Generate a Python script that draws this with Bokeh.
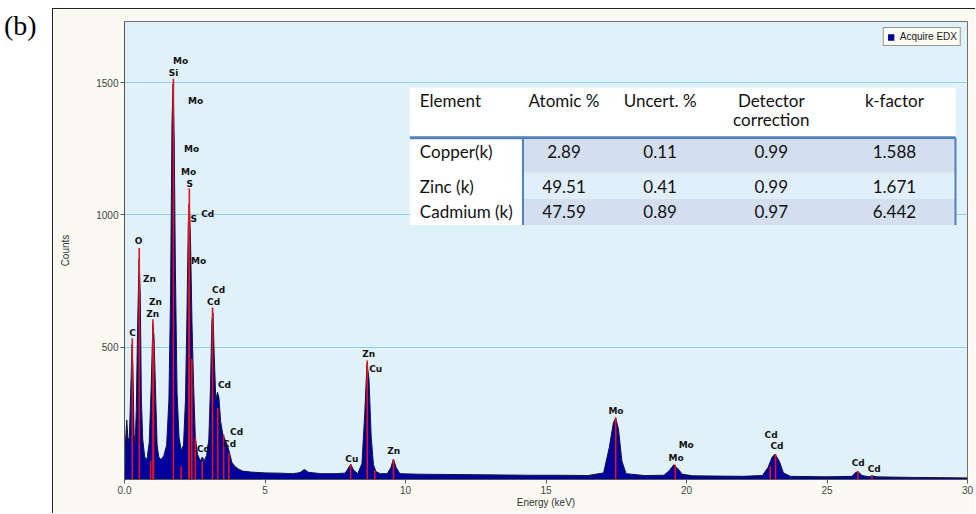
import numpy as np
from bokeh.plotting import figure
from bokeh.models import Div, FixedTicker, Range1d
from bokeh.layouts import row, column
from bokeh.embed import file_html
from bokeh.resources import INLINE
from bokeh.core.properties import value

# ---------------- data ----------------
energy_kev = [0.00, 0.02, 0.04, 0.08, 0.12, 0.17, 0.22, 0.27, 0.30, 0.34, 0.38, 0.42, 0.47, 0.52,
              0.56, 0.60, 0.65, 0.72, 0.80, 0.88, 0.95, 1.01, 1.05, 1.10, 1.16, 1.22, 1.30, 1.40,
              1.50, 1.58, 1.64, 1.69, 1.73, 1.77, 1.81, 1.87, 1.94, 2.02, 2.10, 2.17, 2.22, 2.27,
              2.31, 2.35, 2.40, 2.46, 2.52, 2.60, 2.70, 2.77, 2.83, 2.92, 3.00, 3.06, 3.11, 3.15,
              3.19, 3.25, 3.31, 3.36, 3.42, 3.50, 3.58, 3.66, 3.74, 3.82, 3.92, 4.05, 4.20, 4.50,
              5.00, 5.50, 6.00, 6.25, 6.40, 6.55, 7.00, 7.50, 7.85, 7.95, 8.05, 8.15, 8.30, 8.45,
              8.55, 8.63, 8.70, 8.78, 8.86, 8.95, 9.10, 9.35, 9.48, 9.57, 9.67, 9.80, 10.5, 11.5,
              12.5, 13.5, 14.5, 15.5, 16.5, 17.05, 17.25, 17.40, 17.48, 17.58, 17.70, 17.85, 18.5,
              19.2, 19.4, 19.55, 19.7, 19.85, 20.2, 21.0, 22.0, 22.7, 22.9, 23.05, 23.15, 23.3,
              23.45, 23.7, 25.0, 25.9, 26.0, 26.1, 26.25, 26.5, 26.6, 26.75, 28.0, 29.0, 30.0]
counts = [0, 40, 150, 225, 160, 140, 330, 510, 420, 170, 140, 260, 600, 835,
          700, 300, 150, 85, 75, 140, 350, 590, 540, 350, 130, 85, 75, 90,
          130, 300, 700, 1350, 1495, 1280, 800, 330, 160, 110, 130, 300, 600, 970,
          1040, 900, 600, 350, 160, 95, 70, 85, 70, 90, 150, 350, 600, 630,
          480, 300, 330, 310, 220, 170, 150, 130, 100, 65, 50, 40, 32, 28,
          25, 24, 22, 26, 38, 27, 22, 22, 24, 40, 58, 36, 22, 60,
          250, 440, 380, 160, 55, 30, 22, 22, 45, 77, 45, 22, 20, 19,
          18, 17, 16, 16, 15, 25, 120, 215, 232, 190, 70, 22, 15,
          16, 35, 56, 40, 20, 14, 13, 12, 15, 45, 85, 96, 70,
          25, 12, 10, 12, 25, 30, 15, 10, 14, 10, 8, 7, 6]

marker_energy = [0.277, 0.525, 0.93, 1.012, 1.034, 1.74, 2.016, 2.293, 2.307, 2.395, 2.52,
                 2.767, 3.133, 3.316, 3.528, 3.716, 8.047, 8.638, 8.905, 9.572, 17.48, 19.6,
                 22.98, 23.17, 26.1, 26.6]
marker_top = [534, 875, 70, 606, 520, 1515, 50, 1040, 1100, 455, 160,
              70, 650, 270, 170, 100, 58, 450, 35, 77, 235, 56,
              50, 96, 30, 14]

label_text = ["Mo", "Si", "Mo", "Mo", "Mo", "S", "S", "Cd", "O", "Zn", "Mo", "Zn", "Zn", "Cd",
              "Cd", "C", "Cd", "Cd", "Cd", "Cd", "Cu", "Zn", "Cu", "Zn", "Mo", "Mo", "Mo", "Cd",
              "Cd", "Cd", "Cd"]
label_energy = [1.995, 1.746, 2.53, 2.39, 2.28, 2.32, 2.46, 2.96, 0.50, 0.89, 2.64, 1.10, 1.00, 3.35,
                3.17, 0.285, 3.56, 3.99, 3.74, 2.81, 8.09, 8.69, 8.94, 9.58, 17.49, 19.99, 19.63, 23.01,
                23.22, 26.11, 26.68]
label_counts = [1580, 1538, 1432, 1250, 1163, 1117, 985, 1004, 902, 758, 826, 670, 625, 716,
                670, 553, 356, 178, 133, 114, 76, 473, 417, 106, 258, 129, 83, 170,
                125, 61, 38]

x_ticks = [0, 5, 10, 15, 20, 25, 30]
y_ticks = [500, 1000, 1500]

table_header = ["Element", "Atomic %", "Uncert. %", "Detector", "k-factor"]
table_elements = ["Copper(k)", "Zinc (k)", "Cadmium (k)"]
atomic_pct = [2.89, 49.51, 47.59]
uncert_pct = [0.11, 0.41, 0.89]
detector_corr = [0.99, 0.99, 0.97]
k_factor = [1.588, 1.671, 6.442]

# ---------------- figure ----------------
X_MAX = 30.0
Y_MAX = 1731.0
FW, FH = 842, 457
PX0, PY0 = 125, 478  # page px of frame bottom-left


def fx(px):
    return (px - PX0) * X_MAX / FW


def fy(py):
    return (PY0 - py) * Y_MAX / FH


p = figure(frame_width=FW, frame_height=FH, output_backend="svg", toolbar_location=None,
           x_range=Range1d(0, X_MAX), y_range=Range1d(0, Y_MAX),
           min_border_left=71, min_border_right=9, min_border_top=12, min_border_bottom=35,
           background_fill_color="#E1F1FA", border_fill_color="#FAFAF3", margin=0)
p.outline_line_color = "#707070"

p.xgrid.visible = False
p.ygrid.grid_line_color = "#8CCFEE"
p.ygrid.grid_line_width = 1

for ax in (p.xaxis[0], p.yaxis[0]):
    ax.axis_line_color = "#555555"
    ax.major_tick_line_color = "#555555"
    ax.major_tick_out = 4
    ax.major_tick_in = 0
    ax.minor_tick_line_color = None
    ax.major_label_text_font = "Liberation Sans"
    ax.major_label_text_font_size = "10px"
    ax.major_label_text_color = "#444444"
    ax.axis_label_text_font = "Liberation Sans"
    ax.axis_label_text_font_size = "10px"
    ax.axis_label_text_font_style = "normal"
    ax.axis_label_text_color = "#333333"
    ax.major_label_standoff = 2

p.xaxis.ticker = FixedTicker(ticks=x_ticks)
p.xaxis.major_label_overrides = {0: "0.0"}
p.xaxis.axis_label = "Energy (keV)"
p.xaxis.axis_label_standoff = 0
p.yaxis.ticker = FixedTicker(ticks=y_ticks)
p.yaxis.axis_label = "Counts"
p.yaxis.axis_label_standoff = 22

# spectrum
p.varea(x=energy_kev, y1=[0] * len(counts), y2=counts, fill_color="#00009C",
        legend_label="Acquire EDX")
p.line(x=energy_kev, y=counts, line_color="#14143C", line_width=1)

# element marker lines
p.segment(x0=marker_energy, y0=[0] * len(marker_top), x1=marker_energy, y1=marker_top,
          line_color="#E3121C", line_width=1.6)

# element labels
p.text(x=label_energy, y=label_counts, text=label_text, text_font=value("DejaVu Sans"),
       text_font_style="bold", text_font_size="9px", text_color="#111111",
       text_align="center", text_baseline="middle")

# ---------------- results table ----------------
T_L, T_R, T_T, T_B = 410, 955, 87, 224
SEP_X = 523
row_edges = [139, 172, 198, 224]
row_fill = ["#D3DFEE", "#E1EFFA", "#D3DFEE"]
p.quad(left=[fx(T_L)], right=[fx(T_R)], top=[fy(T_T)], bottom=[fy(T_B)],
       fill_color="white", line_color=None)
p.quad(left=[fx(SEP_X)] * 3, right=[fx(T_R)] * 3,
       top=[fy(v) for v in row_edges[:3]], bottom=[fy(v) for v in row_edges[1:]],
       fill_color=row_fill, line_color=None)
p.segment(x0=[fx(T_L)], y0=[fy(137)], x1=[fx(T_R)], y1=[fy(137)], line_color="#4F81BD", line_width=3)
p.segment(x0=[fx(SEP_X), fx(T_R)], y0=[fy(137)] * 2, x1=[fx(SEP_X), fx(T_R)], y1=[fy(T_B)] * 2,
          line_color="#4F81BD", line_width=2)

tf = value("Lato")
TFS = "17px"
col_cx = [564, 660, 771, 894]
hdr_y = 100
p.text(x=[fx(420)], y=[fy(hdr_y)], text=[table_header[0]], text_font=tf, text_font_size=TFS,
       text_color="#111111", text_align="left", text_baseline="middle")
p.text(x=[fx(c) for c in col_cx], y=[fy(hdr_y)] * 4, text=table_header[1:], text_font=tf,
       text_font_size=TFS, text_color="#111111", text_align="center", text_baseline="middle")
p.text(x=[fx(771)], y=[fy(119)], text=["correction"], text_font=tf, text_font_size=TFS,
       text_color="#111111", text_align="center", text_baseline="middle")

row_y = [151, 186, 211]
p.text(x=[fx(420)] * 3, y=[fy(v) for v in row_y], text=table_elements, text_font=tf,
       text_font_size=TFS, text_color="#111111", text_align="left", text_baseline="middle")
cols = [[f"{v:.2f}" for v in atomic_pct], [f"{v:.2f}" for v in uncert_pct],
        [f"{v:.2f}" for v in detector_corr], [f"{v:.3f}" for v in k_factor]]
for cx, vals in zip(col_cx, cols):
    p.text(x=[fx(cx)] * 3, y=[fy(v) for v in row_y], text=vals, text_font=tf,
           text_font_size=TFS, text_color="#111111", text_align="center", text_baseline="middle")

# legend
lg = p.legend[0]
lg.location = "top_right"
lg.margin = 6
lg.padding = 3
lg.spacing = 0
lg.glyph_width = 8
lg.glyph_height = 8
lg.label_height = 10
lg.label_standoff = 5
lg.label_text_font = "Liberation Sans"
lg.label_text_font_size = "10px"
lg.label_text_color = "#222222"
lg.border_line_color = "#333333"
lg.background_fill_color = "#FAFAF3"
lg.background_fill_alpha = 1.0

p.styles = {"border-left": "1px solid #222222", "border-top": "1px solid #222222"}

label_div = Div(text='<div style="font-family:\'Liberation Serif\',serif;font-size:28px;'
                     'line-height:28px;padding:12px 0 0 4px;color:#000;">(b)</div>',
                width=52, height=514, margin=0)
top_pad = Div(text="", width=923, height=8, margin=0)
layout = row(label_div, column(top_pad, p, spacing=0, margin=0), spacing=0, margin=0)

open("out.html", "w").write(file_html(layout, INLINE))
